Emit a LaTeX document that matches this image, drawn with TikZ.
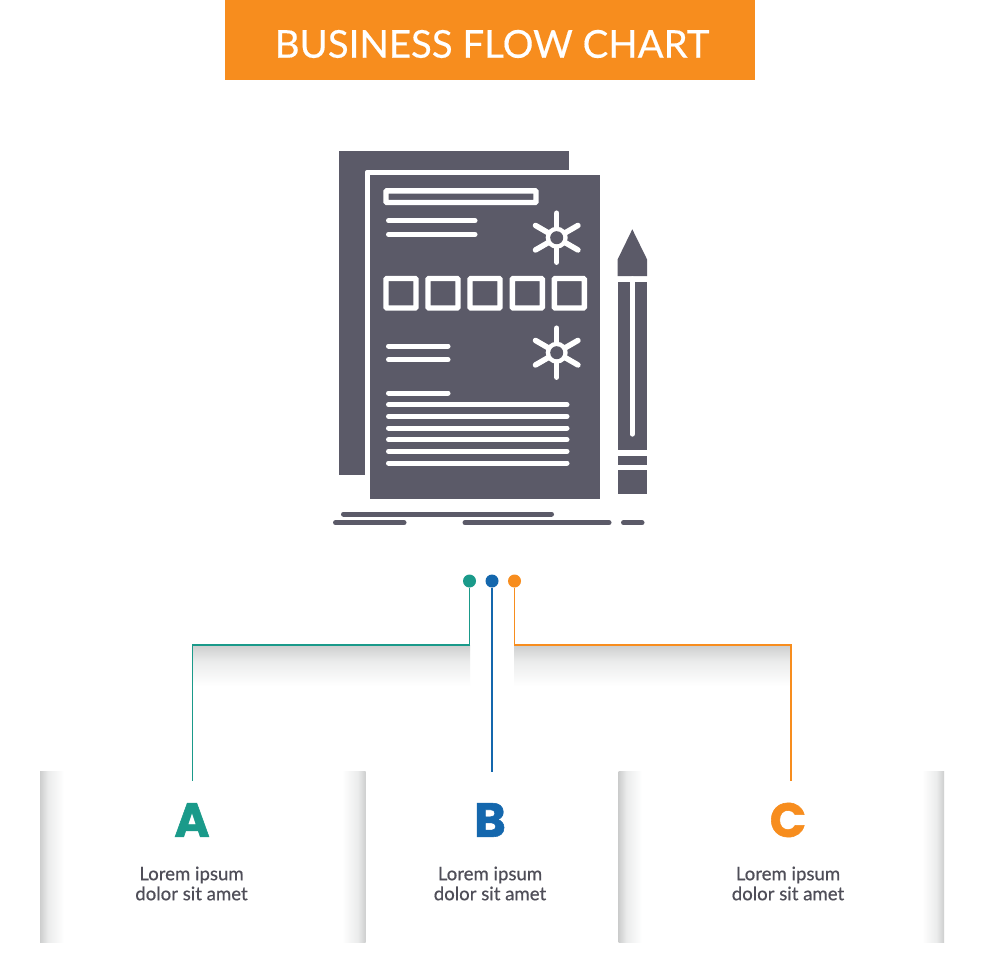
\documentclass[tikz,border=0pt]{standalone}
\usepackage{fontspec}
\setmainfont{Lato}
\newfontfamily\letterfont{Poppins}[BoldFeatures={FakeBold=1.2}]
\newfontfamily\titlefont{Lato}[FakeBold=0.35]
\newfontfamily\captionfont{Lato}[FakeBold=0.45]
\usetikzlibrary{calc}

\definecolor{barOrange}{HTML}{F78D1E}
\definecolor{stepTeal}{HTML}{1A9A8A}
\definecolor{stepBlue}{HTML}{1467AD}
\definecolor{iconGray}{HTML}{5B5A68}
\definecolor{textGray}{HTML}{4F4E58}
\definecolor{shadeGray}{HTML}{CDCECE}
\definecolor{shadeMid}{HTML}{EBECEC}

% only 25bp to 75bp of a shading falls inside the path
\pgfdeclarehorizontalshading{fadeSide}{100bp}{color(0bp)=(shadeGray); color(25bp)=(shadeGray); color(42bp)=(shadeMid); color(75bp)=(white); color(100bp)=(white)}
\pgfdeclareverticalshading{fadeDown}{100bp}{color(0bp)=(white); color(25bp)=(white); color(55bp)=(shadeMid); color(75bp)=(shadeGray); color(100bp)=(shadeGray)}

\tikzset{
    wline/.style={white, line width=5pt, line cap=round},
    gline/.style={iconGray, line width=5pt, line cap=round},
    wbox/.style={white, line width=5.4pt, rounded corners=1pt},
    dot/.style={circle, inner sep=0pt, minimum size=13pt},
    wire/.style={line width=1.7pt},
    letter/.style={font=\letterfont\bfseries\fontsize{48}{48}\selectfont},
    caption/.style={align=center, text=textGray, font=\captionfont\fontsize{18.6}{20}\selectfont}
}

\begin{document}
\begin{tikzpicture}[x=1pt, y=-1pt]
        % --- 1. Page and title bar ---
        \useasboundingbox (0,0) rectangle (980,980);
        \fill[white] (0,0) rectangle (980,980);
        \fill[barOrange] (225,0) rectangle (755,80);
        \node[white, font=\titlefont\fontsize{38.4}{38.4}\selectfont] (title) at (492,44) {BUSINESS FLOW CHART};

        % --- 2. Papers ---
        \fill[iconGray] (339.3,150.7) rectangle (569,475);
        \fill[white, rounded corners=2pt] (365,170) rectangle (600,505);
        \fill[iconGray] (370.3,175.3) rectangle (599.7,499.3);
        \draw[wbox] (386,190.8) rectangle (536,202.5);
        \draw[wline] (388.5,220.7) -- (475,220.7);
        \draw[wline] (388.5,234.3) -- (475,234.3);
        \draw[wline] (388.5,346) -- (448,346);
        \draw[wline] (388.5,359.7) -- (448,359.7);
        \draw[wline] (388.5,393) -- (448,393);
        \foreach \y in {404.7,416.3,428,439.7,451.3,463}
            \draw[wline] (388.5,\y) -- (567,\y);

        % Row of squares
        \foreach \x in {386,428,470,512.3,554.3}
            \draw[wbox] (\x,278.5) rectangle ++(30,29.5);

        % Two wheels
        \foreach \y in {237.7,352.7} {
            \foreach \a in {30,90,...,330}
                \draw[wline, line width=5.5pt] (556.7,\y) -- ++(\a:24.5);
            \fill[white] (556.7,\y) circle (11);
            \fill[iconGray] (556.7,\y) circle (6.5);
        }

        % --- 3. Pencil ---
        \fill[iconGray] (617.7,276) -- (617.7,259.3) -- (632.3,229.3) -- (647,259.3) -- (647,276) -- cycle;
        \fill[iconGray] (617.7,281.7) rectangle (647,450.3);
        \fill[iconGray] (617.7,456) rectangle (647,464.7);
        \fill[iconGray] (617.7,470.3) rectangle (647,494.3);
        \draw[white, line width=5.4pt, line cap=round] (632.3,279) -- (632.3,434);

        % --- 4. Ground strokes ---
        \draw[gline] (343.5,514) -- (551.5,514);
        \draw[gline] (335.5,522.7) -- (404,522.7);
        \draw[gline] (465,522.7) -- (609,522.7);
        \draw[gline] (623.5,522.7) -- (642,522.7);

        % --- 5. Shadows under the connectors ---
        \shade[shading=fadeDown] (193,645) rectangle (470,686);
        \shade[shading=fadeDown] (514,645) rectangle (791,686);

        % --- 6. Panels ---
        \shade[shading=fadeSide] (40,771.7) rectangle (64,942.3);
        \shade[shading=fadeSide, shading angle=180] (342,771.7) rectangle (365.7,942.3);
        \shade[shading=fadeSide] (618.7,771.7) rectangle (642,942.3);
        \shade[shading=fadeSide, shading angle=180] (922,771.7) rectangle (944,942.3);

        % --- 7. Dots and connectors ---
        \node[dot, fill=stepTeal] (dotA) at (469.5,581) {};
        \node[dot, fill=stepBlue] (dotB) at (492,581) {};
        \node[dot, fill=barOrange] (dotC) at (514.5,581) {};

        \coordinate (bendA) at (192.5,645);
        \coordinate (endA) at (192.5,781);
        \coordinate (endB) at (492,771.7);
        \coordinate (bendC) at (791,645);
        \coordinate (endC) at (791,781);

        \draw[wire, stepTeal] (dotA) |- (bendA) -- (endA);
        \draw[wire, stepBlue] (dotB) -- (endB);
        \draw[wire, barOrange] (dotC) |- (bendC) -- (endC);

        % --- 8. Letters and captions ---
        \node[letter, text=stepTeal] (letterA) at (192,820) {A};
        \node[letter, text=stepBlue] (letterB) at (490,820) {B};
        \node[letter, text=barOrange] (letterC) at (788,820) {C};

        \node[caption] (textA) at (191.5,883.5) {Lorem ipsum\\dolor sit amet};
        \node[caption] (textB) at (490,883.5) {Lorem ipsum\\dolor sit amet};
        \node[caption] (textC) at (788,883.5) {Lorem ipsum\\dolor sit amet};
    \end{tikzpicture}
\end{document}
